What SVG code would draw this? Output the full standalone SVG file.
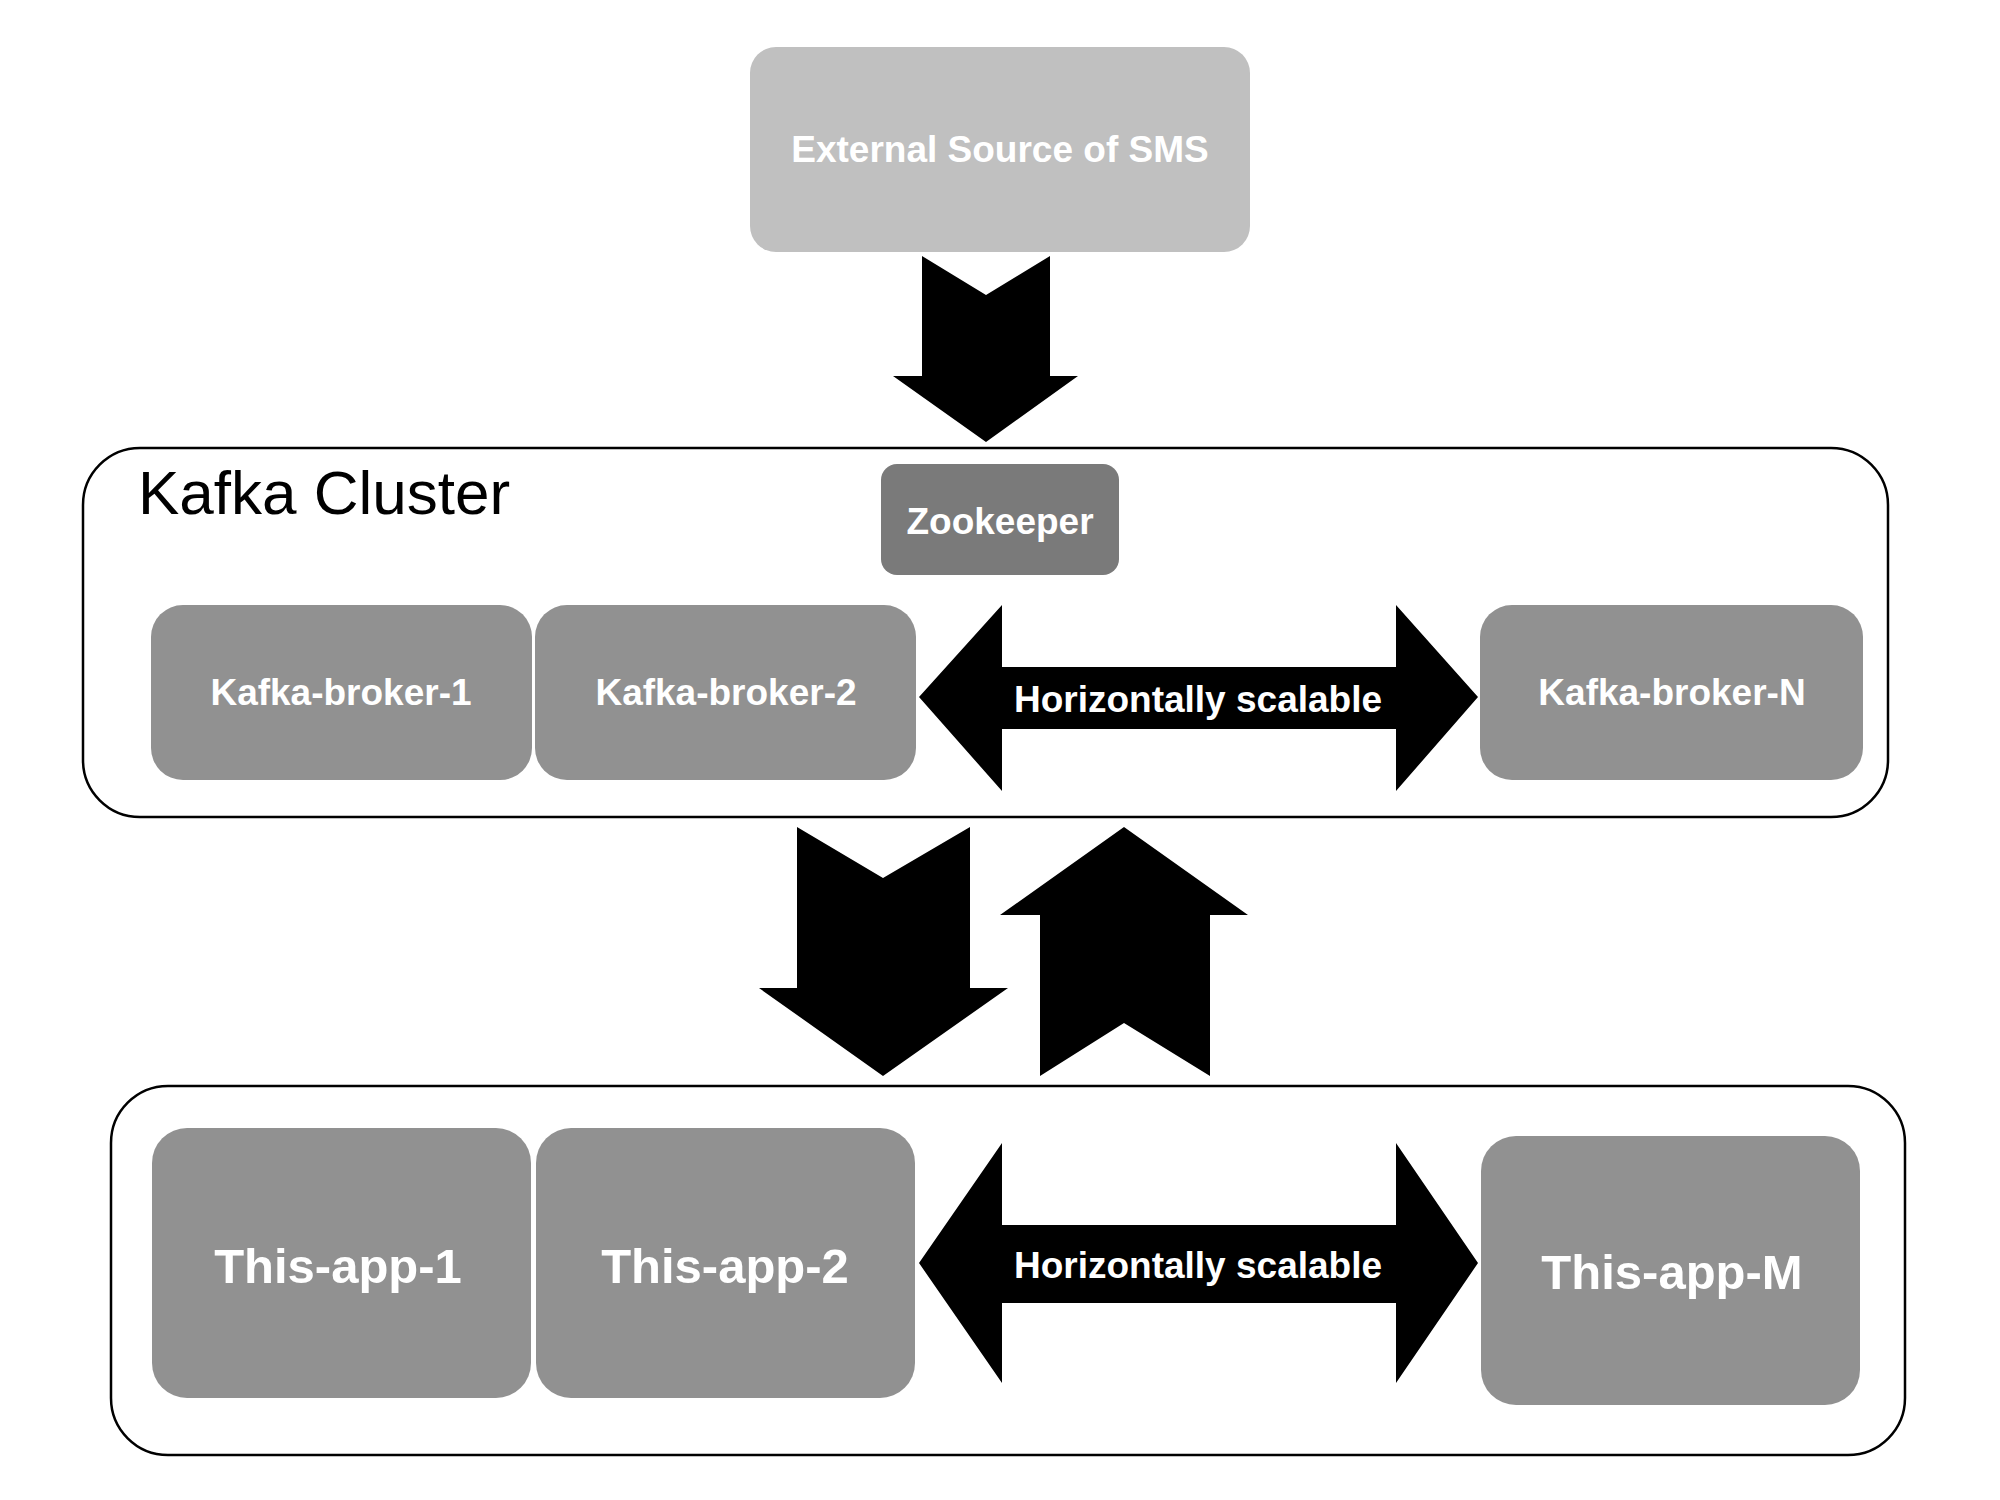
<svg xmlns="http://www.w3.org/2000/svg" width="2000" height="1500" viewBox="0 0 2000 1500">
<style>
.cont{fill:#ffffff;stroke:#000000;stroke-width:2.5}
.node{fill:#919191}
.lbl{font-family:"Liberation Sans",Arial,Helvetica,sans-serif;font-weight:bold;fill:#ffffff;text-anchor:middle}
.arr{fill:#000000}
</style>
<rect width="2000" height="1500" fill="#ffffff"/>
<g id="kafka-cluster">
<rect class="cont" x="83" y="448" width="1805" height="369" rx="57"/>
<text x="138" y="514" font-family="'Liberation Sans',Arial,Helvetica,sans-serif" font-size="62" fill="#000000">Kafka Cluster</text>
</g>
<g id="app-cluster">
<rect class="cont" x="111" y="1086" width="1794" height="369" rx="57"/>
</g>
<g id="external-source">
<rect x="750" y="47" width="500" height="205" rx="26" fill="#c0c0c0"/>
<text class="lbl" x="1000" y="162" font-size="37" fill="#f4f4f4">External Source of SMS</text>
</g>
<g id="zookeeper">
<rect x="881" y="464" width="238" height="111" rx="16" fill="#7a7a7a"/>
<text class="lbl" x="1000" y="534" font-size="37">Zookeeper</text>
</g>
<g id="kafka-broker-1">
<rect class="node" x="151" y="605" width="381" height="175" rx="32"/>
<text class="lbl" x="341" y="705" font-size="37">Kafka-broker-1</text>
</g>
<g id="kafka-broker-2">
<rect class="node" x="535" y="605" width="381" height="175" rx="32"/>
<text class="lbl" x="726" y="705" font-size="37">Kafka-broker-2</text>
</g>
<g id="kafka-broker-n">
<rect class="node" x="1480" y="605" width="383" height="175" rx="32"/>
<text class="lbl" x="1672" y="705" font-size="37">Kafka-broker-N</text>
</g>
<g id="this-app-1">
<rect class="node" x="152" y="1128" width="379" height="270" rx="35"/>
<text class="lbl" x="338" y="1283" font-size="49">This-app-1</text>
</g>
<g id="this-app-2">
<rect class="node" x="536" y="1128" width="379" height="270" rx="35"/>
<text class="lbl" x="725" y="1283" font-size="49">This-app-2</text>
</g>
<g id="this-app-m">
<rect class="node" x="1481" y="1136" width="379" height="269" rx="35"/>
<text class="lbl" x="1672" y="1289" font-size="49">This-app-M</text>
</g>
<g id="connectors">
<polygon class="arr" points="922,256 986,295 1050,256 1050,376 1078,376 986,442 893,376 922,376"/>
<polygon class="arr" points="797,827 883,878 970,827 970,988 1008,988 883,1076 759,988 797,988"/>
<polygon class="arr" points="1124,827 1248,915 1210,915 1210,1076 1124,1023 1040,1076 1040,915 1000,915"/>
<polygon class="arr" points="919,697 1002,605 1002,667 1396,667 1396,605 1478,697 1396,791 1396,729 1002,729 1002,791"/>
<text class="lbl" x="1198" y="712" font-size="37">Horizontally scalable</text>
<polygon class="arr" points="919,1263 1002,1143 1002,1225 1396,1225 1396,1143 1478,1263 1396,1383 1396,1303 1002,1303 1002,1383"/>
<text class="lbl" x="1198" y="1278" font-size="37">Horizontally scalable</text>
</g>
</svg>
